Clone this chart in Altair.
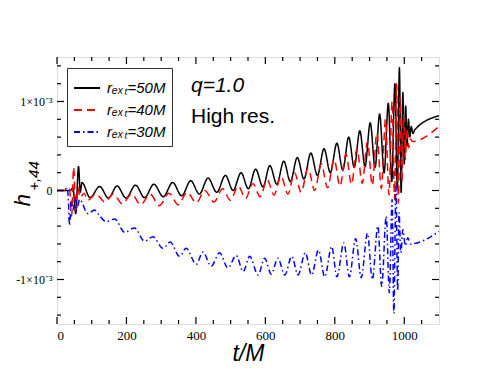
import altair as alt
import pandas as pd

# ---- data (h in units of 1e-3) ----
t_50 = [0, 38, 46, 54, 62, 67, 72, 95, 123, 148, 173, 199, 226, 252, 279, 306, 333, 359, 385, 410,
        435, 460, 485, 507, 530, 551, 572, 593, 613, 633, 653, 672, 692, 711, 731, 750, 769, 787,
        806, 823, 840, 856, 872, 887, 902, 916, 929, 942, 954, 964, 973, 980, 986, 991, 996, 1000,
        1004, 1008, 1012, 1016, 1020, 1025, 1030, 1100]
h_50 = [0, 0, 0.03, -0.26, 0.27, -0.02, 0.09, -0.08, 0.045, -0.085, 0.05, -0.085, 0.06, -0.08, 0.07,
        -0.07, 0.09, -0.06, 0.11, -0.04, 0.14, -0.02, 0.17, 0.0, 0.2, 0.02, 0.24, 0.04, 0.28, 0.07,
        0.33, 0.1, 0.37, 0.13, 0.42, 0.17, 0.47, 0.2, 0.53, 0.23, 0.6, 0.26, 0.67, 0.27, 0.76, 0.26,
        0.86, 0.2, 0.98, 0.1, 1.2, 0.02, 1.38, -0.02, 1.1, 0.3, 0.95, 0.5, 0.8, 0.6, 0.72, 0.64, 0.68, 0.84]

t_40 = [0, 30, 36, 42, 48, 54, 60, 66, 78, 88, 112, 138, 162, 188, 215, 241, 268, 295, 322, 349,
        375, 401, 426, 452, 477, 499, 522, 543, 564, 585, 605, 625, 645, 665, 684, 703, 723, 742,
        761, 779, 798, 815, 832, 848, 864, 879, 894, 908, 921, 934, 946, 956, 965, 972, 978, 983,
        988, 993, 998, 1003, 1008, 1013, 1018, 1023, 1100]
h_40 = [0, 0, 0.02, -0.29, 0.26, -0.22, 0.04, -0.08, -0.03, -0.11, -0.04, -0.13, -0.04, -0.15, -0.04,
        -0.16, -0.04, -0.17, -0.03, -0.16, -0.02, -0.14, 0.0, -0.13, 0.02, -0.11, 0.05, -0.09, 0.08,
        -0.07, 0.12, -0.05, 0.16, -0.04, 0.2, -0.02, 0.25, 0.0, 0.3, 0.03, 0.35, 0.05, 0.41, 0.07,
        0.47, 0.08, 0.55, 0.06, 0.65, 0.02, 0.8, -0.05, 1.0, -0.1, 1.2, -0.14, 1.05, 0.1, 0.85, 0.35,
        0.7, 0.48, 0.58, 0.55, 0.72]

t_30 = [0, 22, 28, 32, 36, 41, 46, 52, 58, 65, 89, 108, 122, 142, 166, 195, 223, 252, 276, 305,
        326, 353, 372, 401, 420, 444, 468, 492, 516, 536, 555, 579, 598, 617, 636, 656, 676, 694,
        715, 733, 753, 771, 791, 806, 826, 842, 860, 876, 894, 908, 924, 935, 948, 957, 965, 970,
        976, 981, 985, 990, 996, 1003, 1010, 1018, 1100]
h_30 = [0, 0, 0.03, -0.05, -0.39, -0.12, -0.22, -0.08, -0.2, -0.1, -0.26, -0.22, -0.28, -0.35, -0.32,
        -0.47, -0.42, -0.57, -0.52, -0.65, -0.58, -0.74, -0.65, -0.83, -0.69, -0.85, -0.70, -0.87,
        -0.73, -0.91, -0.74, -0.95, -0.76, -0.94, -0.76, -0.95, -0.74, -0.95, -0.70, -0.95, -0.67,
        -0.97, -0.63, -0.97, -0.59, -0.97, -0.54, -0.98, -0.48, -1.0, -0.40, -1.08, -0.29, -1.15,
        -0.1, -1.38, 0.05, -1.13, -0.25, -0.70, -0.44, -0.62, -0.53, -0.6, -0.46]

series_labels = ["r\u2091\u2093\u209c=50M", "r\u2091\u2093\u209c=40M", "r\u2091\u2093\u209c=30M"]
series_colors = ["#000000", "#ff0000", "#0000ff"]
series_dashes = [[1, 0], [8, 5], [6, 3, 1.5, 3]]

x_major = [0, 200, 400, 600, 800, 1000]
x_minor = [50, 100, 150, 250, 300, 350, 450, 500, 550, 650, 700, 750, 850, 900, 950, 1050]
y_major = [-1, 0, 1]
y_minor = [-1.4, -1.2, -0.8, -0.6, -0.4, -0.2, 0.2, 0.4, 0.6, 0.8, 1.2, 1.4]

W, H = 382, 267

rows = []
for lab, ts, hs in zip(series_labels, [t_50, t_40, t_30], [h_50, h_40, h_30]):
    for i, (t, h) in enumerate(zip(ts, hs)):
        rows.append({"series": lab, "t": t, "h": h, "i": i})
df = pd.DataFrame(rows)

x_scale = alt.Scale(domain=[0, 1100], nice=False, zero=False)
y_scale = alt.Scale(domain=[-1.5, 1.5], nice=False, zero=False)

legend = alt.Legend(
    title=None, orient="none", legendX=10, legendY=11,
    symbolType="stroke", symbolSize=676, symbolStrokeWidth=1.8,
    labelFont="Liberation Sans", labelFontStyle="italic", labelFontSize=15, labelColor="black",
    labelOffset=6, rowPadding=-5, padding=6, strokeColor="#333333", fillColor="white",
    cornerRadius=0,
)
color = alt.Color("series:N", scale=alt.Scale(domain=series_labels, range=series_colors), legend=legend)
dash = alt.StrokeDash("series:N", scale=alt.Scale(domain=series_labels, range=series_dashes), legend=legend)

x_enc = alt.X("t:Q", scale=x_scale, axis=alt.Axis(
    values=x_major, format="d", ticks=False, domain=False, grid=False,
    labelFont="Liberation Serif", labelFontSize=13, labelColor="black", labelPadding=5,
    title="t/M", titleFont="Liberation Sans", titleFontStyle="italic", titleFontWeight="normal",
    titleFontSize=23, titleColor="black", titlePadding=0))
y_enc = alt.Y("h:Q", scale=y_scale, axis=alt.Axis(
    values=y_major, ticks=False, domain=False, grid=False,
    labelExpr="datum.value == 0 ? '0' : (datum.value > 0 ? '1\u00d710\u207b\u00b3' : '-1\u00d710\u207b\u00b3')",
    labelFont="Liberation Serif", labelFontSize=12, labelColor="black", labelPadding=5, title=None))

layers = []
for k, lab in enumerate(series_labels):
    layers.append(
        alt.Chart(df).transform_filter(alt.datum.series == lab)
        .mark_line(interpolate="monotone", strokeWidth=1.5, clip=True)
        .encode(x=x_enc if k == 0 else alt.X("t:Q", scale=x_scale),
                y=y_enc if k == 0 else alt.Y("h:Q", scale=y_scale),
                color=color, strokeDash=dash, order="i:Q")
    )

# inward ticks on all four sides
def xticks(vals, length):
    d = pd.DataFrame({"t": vals})
    b = alt.Chart(d).mark_rule(color="black", strokeWidth=1.2).encode(
        x=alt.X("t:Q", scale=x_scale), y=alt.value(H), y2=alt.value(H - length))
    t = alt.Chart(d).mark_rule(color="black", strokeWidth=1.2).encode(
        x=alt.X("t:Q", scale=x_scale), y=alt.value(0), y2=alt.value(length))
    return [b, t]

def yticks(vals, length):
    d = pd.DataFrame({"h": vals})
    l = alt.Chart(d).mark_rule(color="black", strokeWidth=1.2).encode(
        y=alt.Y("h:Q", scale=y_scale), x=alt.value(0), x2=alt.value(length))
    r = alt.Chart(d).mark_rule(color="black", strokeWidth=1.2).encode(
        y=alt.Y("h:Q", scale=y_scale), x=alt.value(W), x2=alt.value(W - length))
    return [l, r]

ticks = xticks(x_major, 7) + xticks(x_minor, 4) + yticks(y_major, 7) + yticks(y_minor, 4)

ann = pd.DataFrame({"txt": ["q=1.0"]})
q_txt = alt.Chart(ann).mark_text(align="left", baseline="alphabetic", font="Liberation Sans",
                                 fontStyle="italic", fontSize=21, color="black").encode(
    text="txt:N", x=alt.value(134), y=alt.value(35))
ann2 = pd.DataFrame({"txt": ["High res."]})
hr_txt = alt.Chart(ann2).mark_text(align="left", baseline="alphabetic", font="Liberation Sans",
                                   fontSize=21, color="black").encode(
    text="txt:N", x=alt.value(134), y=alt.value(66))

yt1 = alt.Chart(pd.DataFrame({"txt": ["h"]})).mark_text(
    align="center", baseline="alphabetic", angle=270, font="Liberation Sans", fontStyle="italic",
    fontSize=22, color="black").encode(text="txt:N", x=alt.value(-27), y=alt.value(143))
yt2 = alt.Chart(pd.DataFrame({"txt": ["+,44"]})).mark_text(
    align="center", baseline="alphabetic", angle=270, font="Liberation Sans", fontStyle="italic",
    fontSize=15, color="black").encode(text="txt:N", x=alt.value(-18), y=alt.value(119))

chart = alt.layer(*layers, *ticks, q_txt, hr_txt, yt1, yt2).properties(
    width=W, height=H,
    padding={"left": 49, "top": 49, "right": 40, "bottom": 40},
    autosize=alt.AutoSizeParams(type="none"),
).configure_view(stroke="black", strokeWidth=2).configure(background="white")

chart.save("out.html", embed_options={"renderer": "svg", "actions": False})
